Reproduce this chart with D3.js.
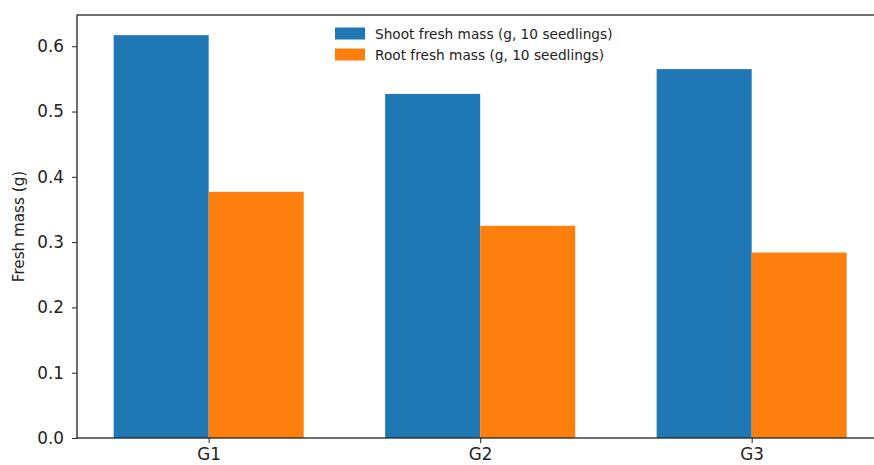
<!DOCTYPE html>
<html>
<head>
<meta charset="utf-8">
<script src="https://cdn.jsdelivr.net/npm/d3@7"></script>
<style>
  html, body { margin: 0; padding: 0; background: #fff; }
  svg { display: block; }
  text { font-family: "DejaVu Sans", sans-serif; fill: #222; }
</style>
</head>
<body>
<svg id="chart" width="874" height="465"></svg>
<script>
// Groups and fresh-mass measurements (10 seedlings per group)
const groups = ["G1", "G2", "G3"];
const shootMass = [0.617, 0.527, 0.565];
const rootMass = [0.377, 0.325, 0.284];
const seriesNames = ["Shoot fresh mass (g, 10 seedlings)", "Root fresh mass (g, 10 seedlings)"];
const seriesColors = ["#1f77b4", "#ff7f0e"];
const yTicks = [0.0, 0.1, 0.2, 0.3, 0.4, 0.5, 0.6];

const svg = d3.select("#chart");
const barWidth = 0.35;

// Plot frame: left edge, top/bottom edges and group spacing
const plotLeft = 77, plotTop = 15, plotBottom = 438;
const unit = 271.5; // pixels per group index
const xMin = -0.485, xMax = 2.485;

const x = d3.scaleLinear().domain([xMin, xMax]).range([plotLeft, plotLeft + (xMax - xMin) * unit]);
const yMax = d3.max(shootMass.concat(rootMass)) * 1.05;
const y = d3.scaleLinear().domain([0, yMax]).range([plotBottom, plotTop]);

const series = [shootMass, rootMass];
series.forEach((vals, s) => {
  const offset = s === 0 ? -barWidth / 2 : barWidth / 2;
  svg.append("g").selectAll("rect")
    .data(vals)
    .join("rect")
    .attr("x", (d, i) => x(i + offset - barWidth / 2))
    .attr("width", x(barWidth) - x(0))
    .attr("y", d => y(d))
    .attr("height", d => y(0) - y(d))
    .attr("fill", seriesColors[s]);
});

// Axes
const yAxis = d3.axisLeft(y).tickValues(yTicks).tickFormat(d3.format(".1f")).tickSize(5).tickPadding(8);
const gy = svg.append("g").attr("transform", `translate(${plotLeft},0)`).call(yAxis);
gy.select(".domain").remove();
gy.selectAll("line").attr("stroke", "#222").attr("stroke-width", 1);
gy.selectAll("text").style("font-size", "16.8px").attr("fill", "#222");

const xAxis = d3.axisBottom(x).tickValues(groups.map((g, i) => i)).tickFormat(i => groups[i]).tickSize(5).tickPadding(5);
const gx = svg.append("g").attr("transform", `translate(0,${plotBottom})`).call(xAxis);
gx.select(".domain").remove();
gx.selectAll("line").attr("stroke", "#222").attr("stroke-width", 1);
gx.selectAll("text").style("font-size", "16.8px").attr("fill", "#222");

// Spines
const plotRight = x(xMax);
svg.append("rect")
  .attr("x", plotLeft).attr("y", plotTop)
  .attr("width", plotRight - plotLeft).attr("height", plotBottom - plotTop)
  .attr("fill", "none").attr("stroke", "#222").attr("stroke-width", 1.3);

// Y axis title
svg.append("text")
  .attr("transform", `translate(24,${(plotTop + plotBottom) / 2}) rotate(-90)`)
  .attr("text-anchor", "middle")
  .style("font-size", "15.2px")
  .text("Fresh mass (g)");

// Legend
const legend = svg.append("g").attr("transform", "translate(335,27)");
seriesNames.forEach((name, i) => {
  const row = legend.append("g").attr("transform", `translate(0,${i * 21})`);
  row.append("rect").attr("width", 30).attr("height", 12).attr("y", 0.5).attr("fill", seriesColors[i]);
  row.append("text").attr("x", 40).attr("y", 11.5).style("font-size", "13.7px").text(name);
});
</script>
</body>
</html>
